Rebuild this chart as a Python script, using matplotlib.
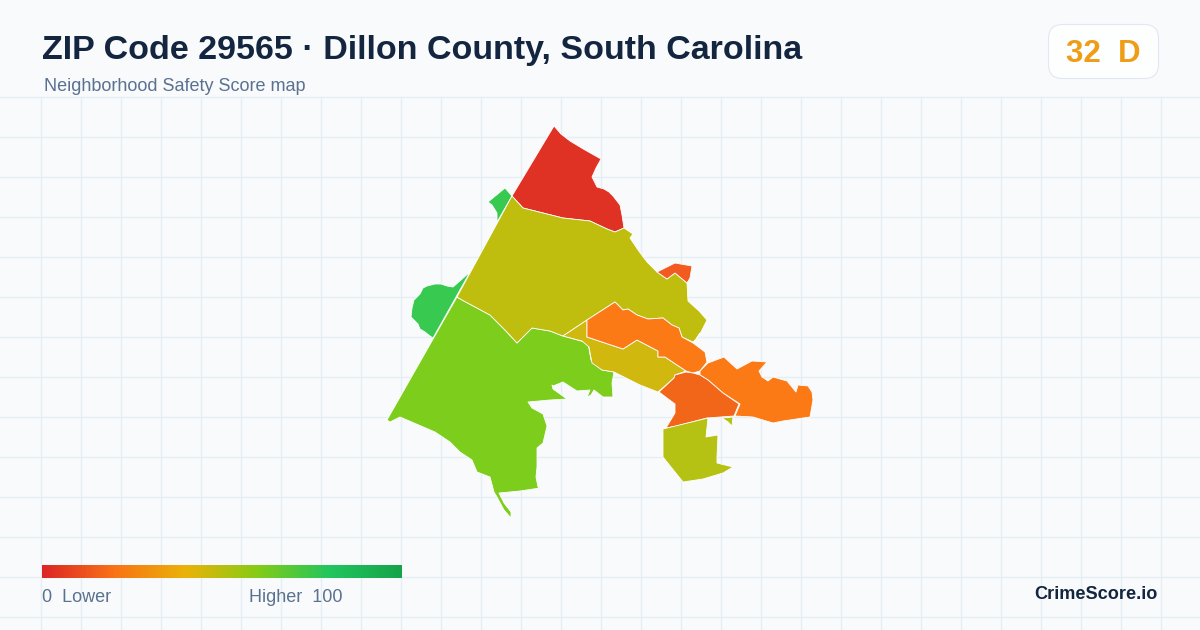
import numpy as np
import matplotlib
matplotlib.use("Agg")
import matplotlib.pyplot as plt
from matplotlib.colors import LinearSegmentedColormap
from matplotlib.patches import FancyBboxPatch

plt.rcParams['font.family'] = ['Liberation Sans', 'DejaVu Sans']

title = "ZIP Code 29565 · Dillon County, South Carolina"
subtitle = "Neighborhood Safety Score map"
score_text = "32  D"
brand = "CrimeScore.io"

# legend colour ramp
ramp_stops = [0, 0.2, 0.4, 0.6, 0.8, 1.0]
ramp_colors = ["#dc2626", "#f97316", "#eab308", "#84cc16", "#22c55e", "#16a34a"]

# area outlines (x, y in image pixels)
red_north = [(554, 126), (561, 134), (570, 141), (585, 150), (601, 159), (596, 168), (592, 177),
             (597, 187), (604, 189), (609, 192), (613, 196), (620, 205), (622, 215), (624, 228),
             (615, 232), (607, 229), (590, 221), (563, 218), (523, 208), (512, 196)]
olive_main = [(512, 196), (523, 208), (563, 218), (590, 221), (607, 229), (615, 232), (624, 228),
              (633, 234), (630, 238), (638, 250), (647, 262), (657, 272), (667, 279), (675, 273),
              (687, 283), (688, 301), (699, 311), (707, 320), (698, 338), (693, 342), (682, 337),
              (679, 328), (672, 325), (663, 318), (648, 319), (637, 315), (628, 309), (623, 310),
              (615, 302), (587, 320), (563, 336), (550, 331), (532, 328), (517, 343), (505, 330),
              (490, 315), (462, 300), (457, 297)]
green_small = [(512, 196), (505, 188), (488, 202), (492, 205), (497, 213), (497, 222)]
green_west = [(470, 272), (453, 287), (447, 286), (441, 284), (435, 284), (427, 286), (423, 288),
              (420, 294), (414, 300), (412, 308), (411, 317), (418, 324), (420, 329), (425, 332),
              (430, 336), (433, 338)]
lime_main = [(457, 297), (462, 300), (490, 315), (505, 330), (517, 343), (532, 328), (550, 331),
             (563, 336), (588, 343), (591, 360), (602, 370), (614, 372), (612, 383), (613, 397),
             (603, 397), (594, 390), (591, 395), (587, 397), (590, 390), (577, 391), (563, 382),
             (553, 386), (552, 385), (553, 389), (567, 399), (550, 400), (528, 402), (532, 408),
             (543, 414), (547, 426), (543, 443), (537, 448), (537, 467), (536, 477), (538, 487),
             (540, 488), (520, 491), (499, 493), (504, 503), (511, 512), (511, 518), (504, 510),
             (497, 497), (494, 492), (490, 477), (477, 472), (472, 460), (460, 452), (450, 442),
             (435, 432), (400, 417), (390, 422), (387, 420)]
ochre_strip = [(563, 336), (587, 320), (587, 337), (623, 349), (637, 340), (658, 351), (658, 357),
               (665, 357), (686, 371), (675, 375), (674, 378), (658, 392), (640, 385), (614, 372),
               (602, 370), (592, 363), (589, 347), (582, 341)]
orange_upper = [(615, 302), (623, 310), (628, 309), (637, 315), (648, 319), (663, 318), (672, 325),
                (679, 328), (682, 337), (693, 343), (705, 352), (707, 362), (700, 371), (693, 373),
                (686, 371), (665, 357), (658, 357), (658, 351), (637, 340), (623, 349), (587, 337),
                (587, 320)]
orange_sliver = [(700, 333), (694, 342), (697, 338)]
orange_east = [(700, 371), (708, 363), (724, 357), (737, 369), (752, 361), (767, 362), (759, 371),
               (762, 377), (768, 381), (773, 377), (787, 381), (796, 392), (798, 385), (808, 386),
               (812, 392), (813, 400), (810, 417), (803, 418), (783, 421), (773, 423), (753, 417),
               (735, 416), (740, 404), (723, 393), (708, 380), (700, 375)]
redorange_mid = [(686, 372), (693, 373), (700, 375), (708, 380), (723, 393), (739, 404), (734, 416),
                 (707, 418), (677, 426), (666, 428), (675, 413), (675, 404), (659, 392), (674, 378),
                 (675, 375)]
redorange_top = [(657, 272), (675, 263), (692, 266), (690, 278), (687, 283), (675, 273), (667, 279)]
olive_bit = [(722, 418), (733, 417), (732, 426), (728, 422)]
yellowgreen_south = [(663, 429), (708, 418), (706, 437), (718, 435), (717, 457), (717, 463),
                     (733, 467), (723, 473), (703, 479), (683, 482), (663, 457)]

areas = [green_small, green_west, red_north, lime_main, olive_main, ochre_strip, orange_upper,
         orange_sliver, orange_east, redorange_mid, redorange_top, olive_bit, yellowgreen_south]
area_colors = ["#38c950", "#38c950", "#e03224", "#7ccd1c", "#bfbd0d", "#d0b80f", "#fb7a15",
               "#fb7a15", "#fb7a15", "#f2661a", "#f25a20", "#b5c214", "#b5c214"]

fig = plt.figure(figsize=(12, 6.3), dpi=100, facecolor="#f8fafc")
ax = fig.add_axes([0, 0, 1, 1])
ax.set_xlim(0, 1200)
ax.set_ylim(630, 0)
ax.axis("off")

# background grid below the header
for x in np.arange(40.5, 1200, 40):
    ax.plot([x, x], [96.5, 630], color="#e5eef3", lw=0.9, zorder=1)
for y in np.arange(96.5, 630, 40):
    ax.plot([0, 1200], [y, y], color="#e5eef3", lw=0.9, zorder=1)

for pts, col in zip(areas, area_colors):
    xs, ys = zip(*pts)
    ax.fill(xs, ys, facecolor=col, edgecolor="white", lw=0.6, zorder=2, joinstyle="round")

# header
ax.text(42, 59, title, fontsize=24.45, fontweight="bold", color="#14263f", va="baseline", ha="left")
ax.text(44, 91, subtitle, fontsize=12.95, color="#5a7190", va="baseline", ha="left")

# score badge
badge = FancyBboxPatch((1048.5, 24.5), 110, 54, boxstyle="round,pad=0,rounding_size=14",
                       facecolor="#fdfefe", edgecolor="#e2e8f0", lw=0.8, zorder=3)
ax.add_patch(badge)
ax.text(1103, 62, score_text, fontsize=22.5, fontweight="bold", color="#ef9d17",
        va="baseline", ha="center", zorder=4)

# legend
cmap = LinearSegmentedColormap.from_list("score", list(zip(ramp_stops, ramp_colors)))
ax.imshow(np.linspace(0, 1, 360).reshape(1, -1), cmap=cmap, extent=[42, 402, 578, 565],
          aspect="auto", zorder=3)
ax.set_xlim(0, 1200)
ax.set_ylim(630, 0)
ax.text(42, 602.5, "0  Lower", fontsize=13, color="#5a7190", va="baseline", ha="left")
ax.text(249, 602.5, "Higher  100", fontsize=13, color="#5a7190", va="baseline", ha="left")

ax.text(1158, 599, brand, fontsize=13.1, fontweight="bold", color="#14263f", va="baseline", ha="right")

fig.savefig("out.png", dpi=100, facecolor=fig.get_facecolor())
